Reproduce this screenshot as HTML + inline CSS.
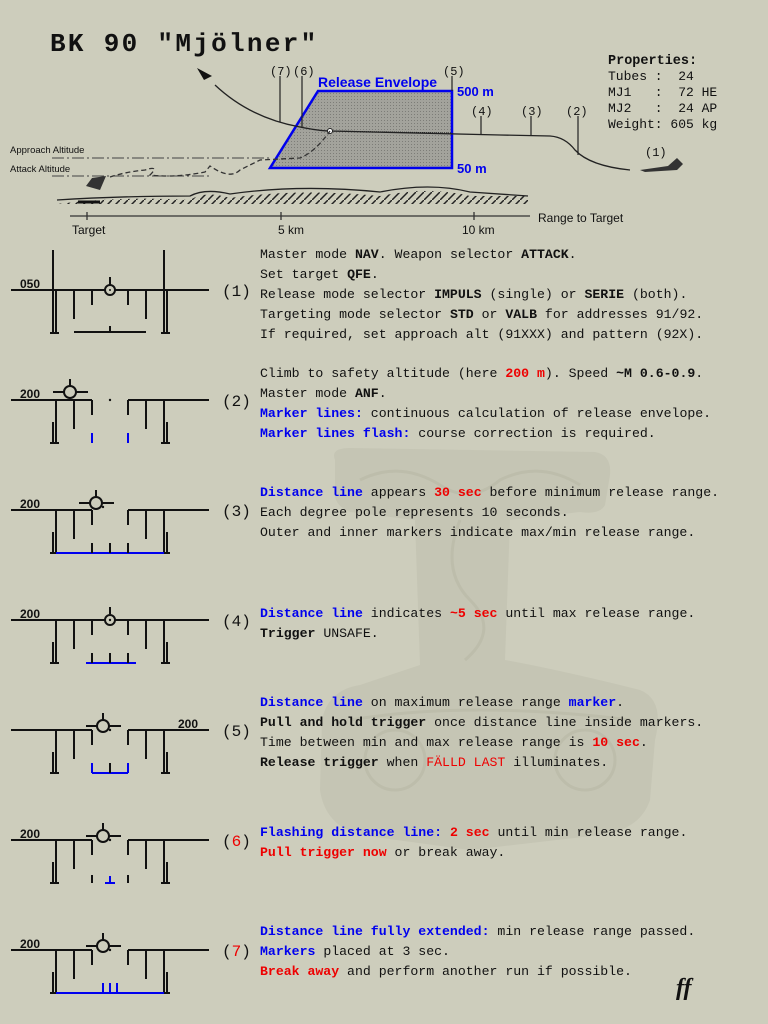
<!DOCTYPE html>
<html><head><meta charset="utf-8"><style>
html,body{margin:0;padding:0;background:#cdcdbc;}
svg{display:block;}
.m{font-family:"Liberation Mono",monospace;font-size:13.2px;fill:#111;}
.b{font-weight:bold;}
.bl{fill:#0000ee;font-weight:bold;}
.r{fill:#ee0000;}
.rb{fill:#ee0000;font-weight:bold;}
.s{font-family:"Liberation Sans","DejaVu Sans",sans-serif;}
.hud line,.hud path{stroke:#111;stroke-width:2;fill:none;}
.hud .blue{stroke:#0000ee;}
</style></head><body>
<svg width="768" height="1024" viewBox="0 0 768 1024" xmlns="http://www.w3.org/2000/svg">
<defs>
<pattern id="dots" width="3" height="3" patternUnits="userSpaceOnUse"><rect width="3" height="3" fill="#a3a39c"/><rect width="1" height="1" fill="#7d7d78"/></pattern>
<pattern id="hatch" width="8" height="8" patternUnits="userSpaceOnUse"><path d="M0,8 L8,0" stroke="#222" stroke-width="1.5"/></pattern>
</defs>
<rect width="768" height="1024" fill="#cdcdbc"/>
<!-- watermark hammer -->
<g fill="#c5c5b4">
<path d="M335,460 Q330,448 350,448 L595,452 Q612,455 610,475 L605,505 Q600,515 580,512 L510,520 L505,660 Q560,670 640,690 Q665,700 655,740 L650,800 Q640,830 600,835 L470,850 L360,835 Q325,825 320,790 L322,720 Q328,690 360,685 L420,665 L415,520 L350,512 Q333,505 335,490 Z"/>
</g>
<g fill="none" stroke="#bdbdab" stroke-width="3">
<path d="M360,480 Q400,460 440,485 Q470,505 500,480 Q540,460 580,485"/>
<path d="M460,520 Q440,570 470,600 Q500,630 465,660"/>
<circle cx="395" cy="760" r="30"/><circle cx="585" cy="760" r="30"/>
<path d="M350,720 Q470,700 630,720"/>
</g>
<!-- title -->
<text x="50" y="51" font-family="Liberation Mono,monospace" font-size="26" letter-spacing="2.3" font-weight="bold" fill="#111">BK 90 "Mjölner"</text>
<g class="m">
<text x="608" y="64" class="b" style="font-size:13.5px">Properties:</text>
<text x="608" y="80" style="font-size:13px" xml:space="preserve">Tubes :  24</text>
<text x="608" y="96" style="font-size:13px" xml:space="preserve">MJ1   :  72 HE</text>
<text x="608" y="112" style="font-size:13px" xml:space="preserve">MJ2   :  24 AP</text>
<text x="608" y="128" style="font-size:13px" xml:space="preserve">Weight: 605 kg</text>
</g>
<!-- top diagram -->
<g>
<polygon points="270,168 318,91 452,91 452,168" fill="url(#dots)" stroke="#0000ee" stroke-width="2.5"/>
<text x="318" y="87" class="s" font-size="14" font-weight="bold" fill="#0000ee">Release Envelope</text>
<text x="457" y="96" class="s" font-size="13" font-weight="bold" fill="#0000ee">500 m</text>
<text x="457" y="173" class="s" font-size="13" font-weight="bold" fill="#0000ee">50 m</text>
<path d="M197,68 L212,76 L204,80 Z" fill="#111"/>
<path d="M215,85 Q250,118 300,127 Q320,131 330,131 L500,135 L550,136 Q565,137 575,150 Q590,166 630,170" fill="none" stroke="#222" stroke-width="1.3"/>
<path d="M330,131 L452,133" stroke="#222" stroke-width="1" stroke-dasharray="1,1"/>
<circle cx="330" cy="131" r="2.5" fill="#fff" stroke="#222"/>
<path d="M640,170 L668,166 L677,158 L683,164 L677,170 L645,172 Z" fill="#333"/>
<g stroke="#222" stroke-width="1.2">
<line x1="280" y1="76" x2="280" y2="122"/><line x1="302" y1="76" x2="302" y2="128"/>
<line x1="452" y1="76" x2="452" y2="91"/><line x1="481" y1="116" x2="481" y2="134"/>
<line x1="531" y1="116" x2="531" y2="135"/><line x1="578" y1="116" x2="578" y2="155"/>
</g>
<g font-family="Liberation Mono,monospace" font-size="12" fill="#111">
<text x="270" y="75">(7)</text><text x="293" y="75">(6)</text><text x="443" y="75">(5)</text>
<text x="471" y="115">(4)</text><text x="521" y="115">(3)</text><text x="566" y="115">(2)</text><text x="645" y="156">(1)</text>
</g>
<text x="10" y="153" class="s" font-size="9.5" fill="#111">Approach Altitude</text>
<text x="10" y="172" class="s" font-size="9.5" fill="#111">Attack Altitude</text>
<line x1="52" y1="158" x2="270" y2="158" stroke="#444" stroke-width="1" stroke-dasharray="12,3,2,3"/>
<line x1="52" y1="176" x2="210" y2="176" stroke="#444" stroke-width="1" stroke-dasharray="12,3,2,3"/>
<path d="M110,177 Q125,172 145,170 Q160,165 150,175 Q175,178 205,172 L210,166 Q230,180 240,170 L260,160 L300,158 Q315,152 330,131" fill="none" stroke="#333" stroke-width="1.3" stroke-dasharray="5,3"/>
<path d="M86,186 L92,178 L106,176 L100,190 Z" fill="#333"/>
<path d="M57,204 Q120,196 190,200 Q205,190 230,198 Q300,188 380,196 Q430,186 470,196 L528,196 L528,204 L57,204 Z" fill="url(#hatch)"/>
<path d="M57,200 Q120,196 190,196 Q205,188 230,194 Q300,184 380,192 Q430,182 470,192 L528,196" fill="none" stroke="#222" stroke-width="1.3"/>
<line x1="78" y1="202" x2="100" y2="202" stroke="#111" stroke-width="3"/>
<line x1="70" y1="216" x2="530" y2="216" stroke="#333" stroke-width="1.3"/>
<g stroke="#333" stroke-width="1.3"><line x1="87" y1="212" x2="87" y2="220"/><line x1="281" y1="212" x2="281" y2="220"/><line x1="474" y1="212" x2="474" y2="220"/></g>
<g class="s" font-size="12" fill="#111"><text x="72" y="234">Target</text><text x="278" y="234">5 km</text><text x="462" y="234">10 km</text><text x="538" y="222">Range to Target</text></g>
</g>

<!-- HUD symbols -->
<g class="hud">
<line x1="11" y1="290" x2="209" y2="290"/><line x1="53" y1="250" x2="53" y2="333"/><line x1="56" y1="290" x2="56" y2="333"/><line x1="50" y1="333" x2="59" y2="333"/>
<line x1="164" y1="250" x2="164" y2="333"/><line x1="167" y1="290" x2="167" y2="333"/><line x1="161" y1="333" x2="170" y2="333"/>
<line x1="74" y1="290" x2="74" y2="319"/><line x1="92" y1="290" x2="92" y2="305"/><line x1="128" y1="290" x2="128" y2="305"/><line x1="146" y1="290" x2="146" y2="319"/>
<circle cx="110" cy="290" r="5" fill="#cdcdbc" stroke="#111" stroke-width="2"/><circle cx="110" cy="290" r="1" fill="#111"/><line x1="110" y1="277" x2="110" y2="285"/>
<line x1="74" y1="332" x2="146" y2="332"/><line x1="110" y1="326" x2="110" y2="332"/>
</g>
<g id="huds"></g>
<g font-family="Liberation Sans,sans-serif" font-size="12" font-weight="bold" fill="#111">
<text x="20" y="288">050</text><text x="20" y="398">200</text><text x="20" y="508">200</text><text x="20" y="618">200</text><text x="178" y="728">200</text><text x="20" y="838">200</text><text x="20" y="948">200</text>
</g>
<g font-family="Liberation Mono,monospace" font-size="16" fill="#111">
<text x="222" y="296">(1)</text><text x="222" y="406">(2)</text><text x="222" y="516">(3)</text><text x="222" y="626">(4)</text><text x="222" y="736">(5)</text>
<text x="222" y="846">(<tspan fill="#ee0000">6</tspan>)</text><text x="222" y="956">(<tspan fill="#ee0000">7</tspan>)</text>
</g>

<!-- instructions -->
<g class="m">
<text x="260" y="258">Master mode <tspan class="b">NAV</tspan>. Weapon selector <tspan class="b">ATTACK</tspan>.</text>
<text x="260" y="278">Set target <tspan class="b">QFE</tspan>.</text>
<text x="260" y="298">Release mode selector <tspan class="b">IMPULS</tspan> (single) or <tspan class="b">SERIE</tspan> (both).</text>
<text x="260" y="318">Targeting mode selector <tspan class="b">STD</tspan> or <tspan class="b">VALB</tspan> for addresses 91/92.</text>
<text x="260" y="338">If required, set approach alt (91XXX) and pattern (92X).</text>
<text x="260" y="377">Climb to safety altitude (here <tspan class="rb">200 m</tspan>). Speed <tspan class="b">~M 0.6-0.9</tspan>.</text>
<text x="260" y="397">Master mode <tspan class="b">ANF</tspan>.</text>
<text x="260" y="417"><tspan class="bl">Marker lines:</tspan> continuous calculation of release envelope.</text>
<text x="260" y="437"><tspan class="bl">Marker lines flash:</tspan> course correction is required.</text>
<text x="260" y="496"><tspan class="bl">Distance line</tspan> appears <tspan class="rb">30 sec</tspan> before minimum release range.</text>
<text x="260" y="516">Each degree pole represents 10 seconds.</text>
<text x="260" y="536">Outer and inner markers indicate max/min release range.</text>
<text x="260" y="617"><tspan class="bl">Distance line</tspan> indicates <tspan class="rb">~5 sec</tspan> until max release range.</text>
<text x="260" y="637"><tspan class="b">Trigger</tspan> UNSAFE.</text>
<text x="260" y="706"><tspan class="bl">Distance line</tspan> on maximum release range <tspan class="bl">marker</tspan>.</text>
<text x="260" y="726"><tspan class="b">Pull and hold trigger</tspan> once distance line inside markers.</text>
<text x="260" y="746">Time between min and max release range is <tspan class="rb">10 sec</tspan>.</text>
<text x="260" y="766"><tspan class="b">Release trigger</tspan> when <tspan class="r">FÄLLD LAST</tspan> illuminates.</text>
<text x="260" y="836"><tspan class="bl">Flashing distance line:</tspan> <tspan class="rb">2 sec</tspan> until min release range.</text>
<text x="260" y="856"><tspan class="rb">Pull trigger now</tspan> or break away.</text>
<text x="260" y="935"><tspan class="bl">Distance line fully extended:</tspan> min release range passed.</text>
<text x="260" y="955"><tspan class="bl">Markers</tspan> placed at 3 sec.</text>
<text x="260" y="975"><tspan class="rb">Break away</tspan> and perform another run if possible.</text>
</g>
<text x="676" y="995" font-family="Liberation Serif,serif" font-style="italic" font-weight="bold" font-size="24" fill="#111">ff</text>

<script>
const stepHorizons = [400, 510, 620, 730, 840, 950];
const stepGap = [true, true, false, true, true, true];
const stepPipperX = [70, 96, 110, 103, 103, 103];
const stepPipperDy = [-8, -7, 0, -4, -4, -4];
const stepMarker = ['ticks', 'full', 'short', 'bracket', 'flash', 'full3'];
const NS = 'http://www.w3.org/2000/svg';
const root = document.getElementById('huds');
function ln(g, x1, y1, x2, y2, cls) {
  const l = document.createElementNS(NS, 'line');
  l.setAttribute('x1', x1); l.setAttribute('y1', y1); l.setAttribute('x2', x2); l.setAttribute('y2', y2);
  if (cls) l.setAttribute('class', cls);
  g.appendChild(l);
}
stepHorizons.forEach((y, i) => {
  const g = document.createElementNS(NS, 'g');
  g.setAttribute('class', 'hud');
  
  
  if (stepGap[i]) {
    ln(g, 11, y, 92, y); ln(g, 92, y, 92, y + 15); ln(g, 128, y, 209, y); ln(g, 128, y, 128, y + 15);
  } else {
    ln(g, 11, y, 209, y); ln(g, 92, y, 92, y + 15); ln(g, 128, y, 128, y + 15);
  }
  ln(g, 56, y, 56, y + 43); ln(g, 53, y + 22, 53, y + 43); ln(g, 50, y + 43, 59, y + 43);
  ln(g, 164, y, 164, y + 43); ln(g, 167, y + 22, 167, y + 43); ln(g, 161, y + 43, 170, y + 43);
  ln(g, 74, y, 74, y + 29); ln(g, 146, y, 146, y + 29);
  const px = stepPipperX[i], py = y + stepPipperDy[i];
  const c = document.createElementNS(NS, 'circle');
  c.setAttribute('cx', px); c.setAttribute('cy', py); c.setAttribute('r', stepMarker[i] === 'short' ? 5 : 6);
  c.setAttribute('fill', '#cdcdbc'); c.setAttribute('stroke', '#111'); c.setAttribute('stroke-width', '2');
  ln(g, px, py - 13, px, py - 6);
  if (stepMarker[i] !== 'short') { ln(g, px - 17, py, px - 6, py); ln(g, px + 6, py, px + 18, py); }
  g.appendChild(c);
  const d = document.createElementNS(NS, 'circle');
  d.setAttribute('cx', stepMarker[i] === 'short' ? 110 : (i === 0 ? 110 : px + 7)); d.setAttribute('cy', stepMarker[i] === 'short' ? y : (i === 0 ? y : py + 4)); d.setAttribute('r', 1.2); d.setAttribute('fill', '#111');
  g.appendChild(d);
  const m = stepMarker[i], b = y + 43;
  if (m === 'ticks') { ln(g, 92, y + 33, 92, b, 'blue'); ln(g, 128, y + 33, 128, b, 'blue'); }
  if (m === 'full') { ln(g, 56, b, 164, b, 'blue'); ln(g, 92, y + 33, 92, b); ln(g, 110, y + 33, 110, b); ln(g, 128, y + 33, 128, b); }
  if (m === 'short') { ln(g, 86, b, 136, b, 'blue'); ln(g, 92, y + 33, 92, b); ln(g, 110, y + 33, 110, b); ln(g, 128, y + 33, 128, b); }
  if (m === 'bracket') { ln(g, 92, b, 128, b, 'blue'); ln(g, 92, y + 33, 92, b, 'blue'); ln(g, 128, y + 33, 128, b, 'blue'); ln(g, 110, y + 33, 110, b); }
  if (m === 'flash') { ln(g, 92, y + 35, 92, b); ln(g, 128, y + 35, 128, b); ln(g, 105, b, 115, b, 'blue'); ln(g, 110, y + 36, 110, b, 'blue'); }
  if (m === 'full3') { ln(g, 56, b, 164, b, 'blue'); ln(g, 103, y + 33, 103, b, 'blue'); ln(g, 110, y + 33, 110, b, 'blue'); ln(g, 117, y + 33, 117, b, 'blue'); }
  root.appendChild(g);
});
</script>
</svg>
</body></html>
